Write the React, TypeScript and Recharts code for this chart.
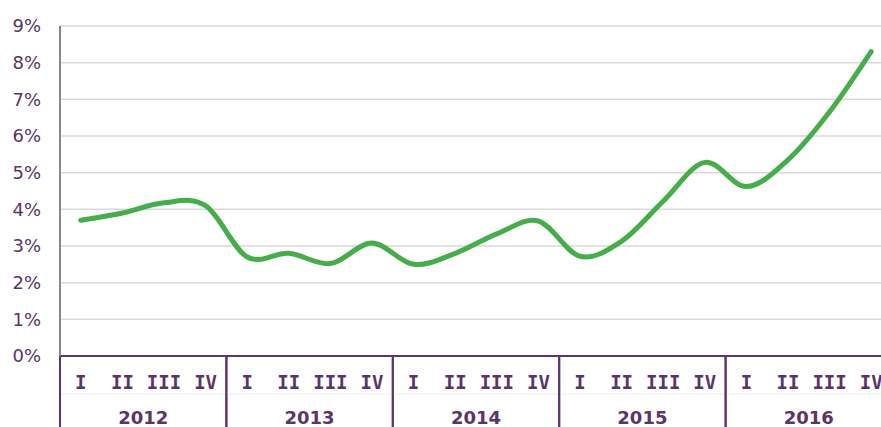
import React from 'react';
import { LineChart, Line, XAxis, YAxis, CartesianGrid } from 'recharts';

const years = ['2012', '2013', '2014', '2015', '2016'];
const quarters = ['I', 'II', 'III', 'IV'];
const values2012 = [3.7, 3.9, 4.18, 4.1];
const values2013 = [2.7, 2.8, 2.52, 3.08];
const values2014 = [2.5, 2.8, 3.33, 3.68];
const values2015 = [2.72, 3.13, 4.22, 5.28];
const values2016 = [4.62, 5.35, 6.66, 8.3];
const yTicks = [0, 1, 2, 3, 4, 5, 6, 7, 8, 9];

const seriesByYear = [values2012, values2013, values2014, values2015, values2016];
const data = years.flatMap((yr, yi) =>
  quarters.map((q, qi) => ({ key: `${yr}-${q}`, value: seriesByYear[yi][qi] }))
);

const PURPLE = '#5b3468';
const LINE_PURPLE = '#5e3470';

// Excel-like smoothing (Catmull-Rom style Bezier)
const smoothCurve = (context: any) => {
  let pts: [number, number][] = [];
  return {
    areaStart() {},
    areaEnd() {},
    lineStart() {
      pts = [];
    },
    lineEnd() {
      const n = pts.length;
      if (!n) return;
      context.moveTo(pts[0][0], pts[0][1]);
      for (let i = 0; i < n - 1; i++) {
        const p0 = pts[Math.max(i - 1, 0)];
        const p1 = pts[i];
        const p2 = pts[i + 1];
        const p3 = pts[Math.min(i + 2, n - 1)];
        const c1x = p1[0] + (p2[0] - p0[0]) / 6;
        const c1y = p1[1] + (p2[1] - p0[1]) / 6;
        const c2x = p2[0] - (p3[0] - p1[0]) / 6;
        const c2y = p2[1] - (p3[1] - p1[1]) / 6;
        context.bezierCurveTo(c1x, c1y, c2x, c2y, p2[0], p2[1]);
      }
    },
    point(x: number, y: number) {
      pts.push([+x, +y]);
    },
  };
};

const QuarterTick = (props: any) => {
  const { x, y, payload, width, visibleTicksCount } = props;
  const band = width / visibleTicksCount;
  const [yr, q] = String(payload.value).split('-');
  const left = x - band / 2;
  return (
    <g>
      <line x1={left} x2={left + band} y1={y + 38} y2={y + 38} stroke="#ececec" strokeWidth={1} />
      <text
        x={x}
        y={y + 33}
        textAnchor="middle"
        fill={PURPLE}
        fontFamily="'DejaVu Sans Mono', monospace"
        fontWeight="bold"
        fontSize={19}
      >
        {q}
      </text>
      {q === 'I' && (
        <>
          <line x1={left} x2={left} y1={y} y2={y + 71} stroke={LINE_PURPLE} strokeWidth={2} />
          <text
            x={left + band * 2}
            y={y + 68}
            textAnchor="middle"
            fill={PURPLE}
            fontFamily="'DejaVu Sans', Verdana, sans-serif"
            fontWeight="bold"
            fontSize={18}
          >
            {yr}
          </text>
        </>
      )}
      {q === 'IV' && (
        <line x1={left + band} x2={left + band} y1={y} y2={y + 71} stroke={LINE_PURPLE} strokeWidth={2} />
      )}
    </g>
  );
};

export default function App() {
  return (
    <div style={{ position: 'absolute', left: 0, top: 0, width: 881, height: 427, overflow: 'hidden', background: '#fff' }}>
      <LineChart width={892} height={427} data={data} margin={{ top: 26, right: 0, bottom: 0, left: 0 }}>
        <CartesianGrid horizontal vertical={false} stroke="#d9d9d9" strokeWidth={1.5} />
        <XAxis
          dataKey="key"
          scale="band"
          interval={0}
          height={71}
          tickLine={false}
          tickSize={0}
          tickMargin={0}
          axisLine={{ stroke: LINE_PURPLE, strokeWidth: 2 }}
          tick={<QuarterTick />}
        />
        <YAxis
          domain={[0, 9]}
          ticks={yTicks}
          interval={0}
          width={60}
          tickLine={false}
          tickSize={0}
          tickMargin={19}
          axisLine={{ stroke: '#868686', strokeWidth: 2 }}
          tickFormatter={(v: number) => `${v}%`}
          tick={{ fill: PURPLE, fontSize: 18, fontFamily: "'DejaVu Sans', Verdana, sans-serif" }}
        />
        <Line
          type={smoothCurve as any}
          dataKey="value"
          stroke="#45ad4a"
          strokeWidth={5}
          strokeLinecap="round"
          dot={false}
          isAnimationActive={false}
        />
      </LineChart>
    </div>
  );
}
